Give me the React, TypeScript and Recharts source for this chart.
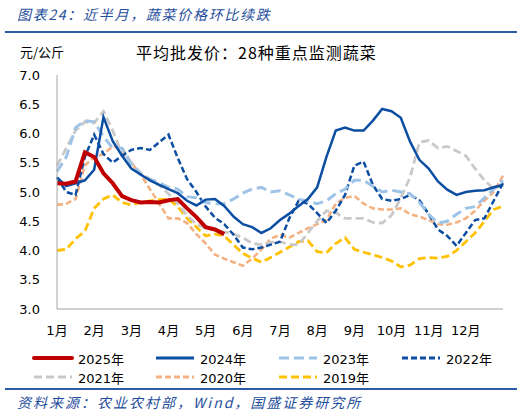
import { LineChart, Line, XAxis, YAxis } from 'recharts';

// x positions in months from 1 Jan (0 = 1月 start, 12 = year end), one point per ~week
const WEEK = [
  0, 0.25, 0.5, 0.75, 1, 1.25, 1.5, 1.75, 2, 2.25, 2.5, 2.75,
  3, 3.25, 3.5, 3.75, 4, 4.25, 4.5, 4.75, 5, 5.25, 5.5, 5.75,
  6, 6.25, 6.5, 6.75, 7, 7.25, 7.5, 7.75, 8, 8.25, 8.5, 8.75,
  9, 9.25, 9.5, 9.75, 10, 10.25, 10.5, 10.75, 11, 11.25, 11.5, 11.75, 12,
];
const MONTH_TICKS = [0, 1, 2, 3, 4, 5, 6, 7, 8, 9, 10, 11];
const MONTH_LABELS = ['1月', '2月', '3月', '4月', '5月', '6月', '7月', '8月', '9月', '10月', '11月', '12月'];
const Y_TICKS = [3, 3.5, 4, 4.5, 5, 5.5, 6, 6.5, 7];

// 元/公斤
const S2025 = [5.15, 5.14, 5.18, 5.68, 5.6, 5.32, 5.15, 4.93, 4.86, 4.82, 4.83, 4.82,
  4.86, 4.88, 4.72, 4.57, 4.4, 4.36, 4.28];
const S2024 = [5.25, 5.1, 5.15, 5.2, 5.38, 6.28, 5.87, 5.62, 5.4, 5.3, 5.2, 5.12,
  5.05, 4.98, 4.85, 4.77, 4.87, 4.88, 4.76, 4.58, 4.45, 4.4, 4.3, 4.38,
  4.52, 4.63, 4.76, 4.88, 5.08, 5.6, 6.05, 6.1, 6.05, 6.05, 6.22, 6.42,
  6.38, 6.27, 5.86, 5.55, 5.4, 5.18, 5.04, 4.95, 5.0, 5.02, 5.03, 5.08, 5.12];
const S2023 = [5.35, 5.6, 6.1, 6.22, 6.2, 5.95, 5.75, 5.75, 5.47, 5.3, 5.22, 5.16,
  5.08, 5.05, 4.92, 4.9, 4.82, 4.8, 4.8, 4.88, 4.98, 5.05, 5.08, 5.0,
  5.02, 4.95, 4.88, 4.84, 4.8, 4.85, 4.97, 5.05, 5.2, 5.2, 5.1, 5.0,
  5.03, 5.0, 4.97, 4.82, 4.62, 4.47, 4.5, 4.62, 4.72, 4.75, 4.9, 5.05, 5.2];
const S2022 = [5.25, 5.0, 4.95, 5.6, 5.98, 5.65, 5.5, 5.62, 5.72, 5.75, 5.72, 5.85,
  5.98, 5.58, 5.22, 5.0, 4.75, 4.56, 4.45, 4.27, 4.05, 4.02, 4.05, 4.1,
  4.15, 4.55, 4.85, 4.8, 4.64, 4.47, 4.68, 4.95, 5.45, 5.52, 5.12, 4.88,
  4.85, 4.88, 4.95, 4.86, 4.62, 4.36, 4.25, 4.08, 4.3, 4.52, 4.55, 4.85, 5.15];
const S2021 = [5.45, 5.75, 6.05, 6.2, 6.18, 6.38, 6.05, 5.65, 5.5, 5.33, 5.22, 5.12,
  4.97, 4.8, 4.6, 4.45, 4.38, 4.35, 4.32, 4.28, 4.22, 4.12, 4.1, 4.14,
  4.15, 4.1, 4.1, 4.3, 4.5, 4.68, 4.65, 4.55, 4.55, 4.55, 4.48, 4.47,
  4.6, 4.9, 5.25, 5.85, 5.88, 5.75, 5.78, 5.7, 5.62, 5.4, 5.2, 5.05, 5.15];
const S2020 = [4.78, 4.8, 4.88, 5.45, 5.6, 5.65, 5.78, 5.75, 5.5, 5.3, 5.05, 4.8,
  4.55, 4.55, 4.47, 4.28, 4.12, 3.93, 3.86, 3.8, 3.74, 3.86, 4.02, 4.2,
  4.27, 4.22, 4.3, 4.38, 4.45, 4.52, 4.8, 4.9, 4.93, 4.8, 4.72, 4.7,
  4.7, 4.72, 4.62, 4.58, 4.52, 4.45, 4.44, 4.48, 4.55, 4.68, 4.85, 5.0, 5.28];
const S2019 = [4.0, 4.02, 4.2, 4.33, 4.72, 4.88, 4.95, 4.82, 4.78, 4.82, 4.85, 4.87,
  4.88, 4.75, 4.55, 4.4, 4.25, 4.28, 4.25, 4.1, 3.95, 3.87, 3.8, 3.88,
  3.97, 4.06, 4.15, 4.17, 3.98, 3.96, 4.12, 4.22, 4.02, 3.97, 3.93, 3.88,
  3.82, 3.72, 3.75, 3.86, 3.88, 3.87, 3.9, 4.0, 4.15, 4.3, 4.5, 4.7, 4.76];

const SERIES = [
  { key: 'y2019', name: '2019年', values: S2019, color: '#FFC000', width: 2.8, dash: '8 4' },
  { key: 'y2020', name: '2020年', values: S2020, color: '#F4B183', width: 2.6, dash: '6 3' },
  { key: 'y2021', name: '2021年', values: S2021, color: '#C9C9C9', width: 2.8, dash: '8 4' },
  { key: 'y2022', name: '2022年', values: S2022, color: '#0B4EA2', width: 2.5, dash: '6 3' },
  { key: 'y2023', name: '2023年', values: S2023, color: '#9DC3E6', width: 3, dash: '10 5' },
  { key: 'y2024', name: '2024年', values: S2024, color: '#0B4EA2', width: 2.5, dash: undefined },
  { key: 'y2025', name: '2025年', values: S2025, color: '#C00000', width: 4, dash: undefined },
];

const rows = WEEK.map((m, i) => {
  const row: Record<string, number | undefined> = { m };
  SERIES.forEach(s => { row[s.key] = s.values[i]; });
  return row;
});

const LEGEND_POS: Record<string, [number, number]> = {
  y2025: [32, 358], y2024: [154, 358], y2023: [277, 358], y2022: [400, 358],
  y2021: [32, 377], y2020: [154, 377], y2019: [277, 377],
};

const BLUE = '#1F4E9C';
const NUM_FONT = '"DejaVu Sans", "Noto Sans CJK SC", sans-serif';

function LegendItem({ s }: { s: typeof SERIES[number] }) {
  const [left, cy] = LEGEND_POS[s.key];
  return (
    <div style={{ position: 'absolute', left, top: cy - 9, height: 18, display: 'flex', alignItems: 'center' }}>
      <svg width={42} height={6} style={{ display: 'block' }}>
        <line x1={2} y1={3} x2={40} y2={3} stroke={s.color} strokeWidth={s.key === 'y2025' ? 4 : 3}
          strokeDasharray={s.dash} strokeLinecap={s.key === 'y2025' ? 'round' : 'butt'} />
      </svg>
      <span style={{ marginLeft: 4, fontSize: 13, color: '#000', fontFamily: NUM_FONT }}>{s.name}</span>
    </div>
  );
}

export default function App() {
  return (
    <div style={{ position: 'absolute', left: 0, top: 0, width: 525, height: 413, background: '#fff', overflow: 'hidden' }}>
      <div style={{ position: 'absolute', left: 17, top: 4, fontSize: 14, fontStyle: 'italic', color: BLUE,
        letterSpacing: 1.7, fontFamily: '"Noto Sans CJK SC", sans-serif', whiteSpace: 'nowrap' }}>
        图表24：近半月，蔬菜价格环比续跌
      </div>
      <div style={{ position: 'absolute', left: 5, top: 31, width: 512, height: 2, background: '#2D5BA6' }} />

      <LineChart width={525} height={413} data={rows} margin={{ top: 75, right: 22, bottom: 74, left: 17 }}>
        <XAxis dataKey="m" type="number" domain={[0, 12]} ticks={MONTH_TICKS} interval={0}
          tickFormatter={(v: number) => MONTH_LABELS[v]} height={30} tickLine={false} tickMargin={11}
          axisLine={{ stroke: '#BFBFBF', strokeWidth: 1.5 }}
          tick={{ fill: '#000', fontSize: 13, fontFamily: NUM_FONT }} />
        <YAxis type="number" domain={[3, 7]} ticks={Y_TICKS} interval={0} width={40}
          tickFormatter={(v: number) => v.toFixed(1)} tickLine={false} tickSize={4} tickMargin={13}
          axisLine={{ stroke: '#A6A6A6' }}
          tick={{ fill: '#000', fontSize: 13, fontFamily: NUM_FONT }} />
        {SERIES.map(s => (
          <Line key={s.key} type="linear" dataKey={s.key} name={s.name} stroke={s.color}
            strokeWidth={s.width} strokeDasharray={s.dash} dot={false} activeDot={false}
            isAnimationActive={false} />
        ))}
      </LineChart>

      <div style={{ position: 'absolute', left: 20, top: 42, fontSize: 13, color: '#000',
        fontFamily: '"Noto Sans CJK SC", sans-serif', whiteSpace: 'nowrap' }}>元/公斤</div>
      <div style={{ position: 'absolute', left: 136, top: 40, fontSize: 16, color: '#000', letterSpacing: 1,
        fontFamily: '"Noto Sans CJK SC", sans-serif', whiteSpace: 'nowrap' }}>平均批发价：28种重点监测蔬菜</div>

      {[...SERIES].reverse().map(s => <LegendItem key={s.key} s={s} />)}

      <div style={{ position: 'absolute', left: 5, top: 388, width: 512, height: 2, background: '#2D5BA6' }} />
      <div style={{ position: 'absolute', left: 17, top: 392, fontSize: 14, fontStyle: 'italic', color: BLUE,
        letterSpacing: 2, fontFamily: '"Noto Sans CJK SC", sans-serif', whiteSpace: 'nowrap' }}>
        资料来源：农业农村部，Wind，国盛证券研究所
      </div>
    </div>
  );
}
